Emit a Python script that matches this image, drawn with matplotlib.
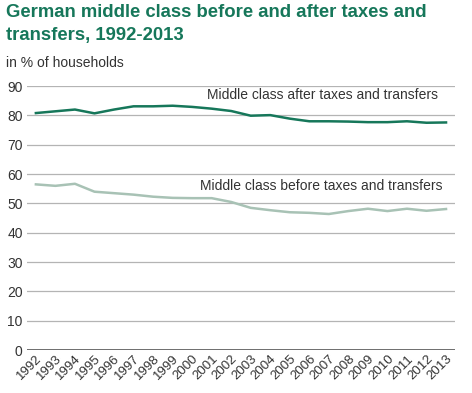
import numpy as np
import matplotlib.pyplot as plt

plt.rcParams['font.family'] = ['Liberation Sans', 'DejaVu Sans']

years = list(range(1992, 2014))
after_taxes = [80.8, 81.4, 82.0, 80.7, 82.0, 83.1, 83.1, 83.3, 82.9, 82.3, 81.5,
               79.9, 80.1, 78.9, 78.0, 78.0, 77.9, 77.7, 77.7, 78.0, 77.5, 77.6]
before_taxes = [56.5, 56.0, 56.7, 54.0, 53.5, 53.0, 52.3, 51.9, 51.8, 51.8, 50.5,
                48.5, 47.7, 47.0, 46.8, 46.4, 47.4, 48.2, 47.4, 48.2, 47.5, 48.1]
yticks = list(range(0, 100, 10))

green = '#16775a'
light = '#a8c2b5'

fig = plt.figure(figsize=(4.72, 3.93), dpi=100)
ax = fig.add_axes([0.057, 0.109, 0.907, 0.672])

for t in yticks[1:]:
    ax.axhline(t, color='#b4b4b4', lw=0.9, zorder=1)
ax.axhline(0, color='#555555', lw=1.2, zorder=1)

ax.plot(years, after_taxes, color=green, lw=1.8, zorder=3)
ax.plot(years, before_taxes, color=light, lw=1.8, zorder=3)

ax.text(2012.6, 84.5, 'Middle class after taxes and transfers', ha='right', va='bottom',
        fontsize=10, color='#333333')
ax.text(2012.8, 53.4, 'Middle class before taxes and transfers', ha='right', va='bottom',
        fontsize=10, color='#333333')

ax.set_xlim(1991.54, 2013.46)
ax.set_ylim(0, 90)
ax.set_yticks(yticks)
ax.set_yticklabels([str(t) for t in yticks], fontsize=10, color='#333333')
ax.set_xticks(years)
ax.set_xticklabels([str(y) for y in years], rotation=45, ha='right', rotation_mode='anchor',
                   fontsize=9.5, color='#333333')
ax.tick_params(length=0, pad=3)
ax.tick_params(axis='x', pad=2)
for s in ax.spines.values():
    s.set_visible(False)

fig.text(0.012, 0.99, 'German middle class before and after taxes and\ntransfers, 1992-2013',
         ha='left', va='top', fontsize=13.3, fontweight='bold', color=green, linespacing=1.45)
fig.text(0.012, 0.84, 'in % of households', ha='left', va='center', fontsize=10, color='#333333')

fig.savefig('out.png', dpi=100)
